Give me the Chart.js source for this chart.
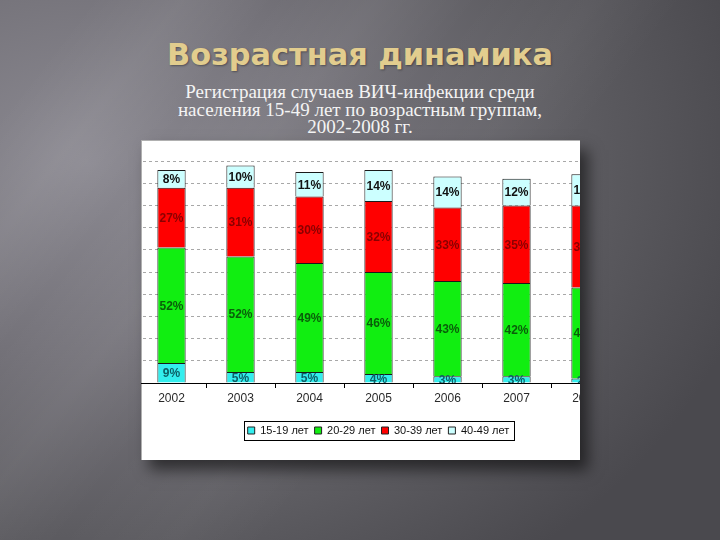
<!DOCTYPE html>
<html><head><meta charset="utf-8">
<script src="https://cdn.jsdelivr.net/npm/chart.js@4.4.0/dist/chart.umd.min.js"></script>
<style>
html,body{margin:0;padding:0;}
body{width:720px;height:540px;overflow:hidden;position:relative;
 background:
  linear-gradient(128deg, rgba(255,255,255,0) 8%, rgba(255,255,255,0.06) 16%, rgba(255,255,255,0) 24%, rgba(255,255,255,0.05) 33%, rgba(255,255,255,0) 42%, rgba(255,255,255,0.03) 52%, rgba(255,255,255,0) 60%),
  radial-gradient(ellipse 95% 95% at 12% 30%, #8c8a92 0%, #747279 38%, #5d5c61 72%, #4a494e 100%);}
#title{position:absolute;left:0;top:37px;width:720px;text-align:center;font-family:'DejaVu Sans',sans-serif;font-weight:bold;font-size:30.4px;line-height:36px;color:#e2cd8e;text-shadow:1px 1px 2px rgba(0,0,0,0.35);}
#sub{position:absolute;left:0;top:83px;width:720px;text-align:center;font-family:'Liberation Serif','DejaVu Serif',serif;font-size:19px;line-height:17.5px;color:#f4f4f4;}
#panel{position:absolute;left:141px;top:140px;width:439px;height:320px;background:#fff;overflow:hidden;
 box-shadow:inset 1px 1px 0 #b0b0b0, 8px 10px 14px rgba(0,0,0,0.55);}
#cv{position:absolute;left:-44px;top:0;}
</style></head>
<body>
<div id="title">Возрастная динамика</div>
<div id="sub">Регистрация случаев ВИЧ-инфекции среди<br>населения 15-49 лет по возрастным группам,<br>2002-2008 гг.</div>
<div id="panel"><canvas id="cv" width="560" height="320"></canvas></div>
<script>
const years = ['2002','2003','2004','2005','2006','2007','2008'];
const seriesNames = ['15-19 лет','20-29 лет','30-39 лет','40-49 лет'];
const age15_19 = [9, 5, 5, 4, 3, 3, 2];
const age20_29 = [52, 52, 49, 46, 43, 42, 41];
const age30_39 = [27, 31, 30, 32, 33, 35, 37];
const age40_49 = [8, 10, 11, 14, 14, 12, 14];

const fills = ['#33eeee', '#11ee11', '#ff0000', '#ccffff'];
const labelColors = ['#0d5f66', '#0a5e0a', '#8a0000', '#111111'];
const values = [age15_19, age20_29, age30_39, age40_49];

const segLabels = {
  id: 'segLabels',
  afterDatasetsDraw(chart) {
    const ctx = chart.ctx, a = chart.chartArea;
    ctx.save();
    ctx.beginPath();
    ctx.rect(a.left, a.top, a.right - a.left, a.bottom - a.top);
    ctx.clip();
    ctx.font = "bold 12px 'Liberation Sans Narrow', 'Liberation Sans', sans-serif";
    ctx.textAlign = 'center';
    ctx.textBaseline = 'middle';
    chart.data.datasets.forEach((ds, i) => {
      const meta = chart.getDatasetMeta(i);
      meta.data.forEach((bar, j) => {
        ctx.fillStyle = labelColors[i];
        ctx.fillText(ds.data[j] + '%', bar.x, (bar.y + bar.base) / 2 + 1);
      });
    });
    ctx.restore();
  }
};

const legendBox = {
  id: 'legendBox',
  afterDraw(chart) {
    const hb = chart.legend.legendHitBoxes;
    if (!hb || !hb.length) return;
    const l = Math.min(...hb.map(h => h.left)) - 4;
    const r = Math.max(...hb.map(h => h.left + h.width)) + 4;
    const t = Math.min(...hb.map(h => h.top)) - 4;
    const b = Math.max(...hb.map(h => h.top + h.height)) + 4;
    const ctx = chart.ctx;
    ctx.save();
    ctx.strokeStyle = '#000';
    ctx.lineWidth = 1;
    ctx.strokeRect(Math.round(l) + 0.5, Math.round(t) + 0.5, Math.round(r - l), Math.round(b - t));
    ctx.restore();
  }
};

new Chart(document.getElementById('cv'), {
  type: 'bar',
  data: {
    labels: years,
    datasets: values.map((v, i) => ({
      label: seriesNames[i],
      data: v,
      backgroundColor: fills[i],
      borderColor: '#1a1a1a',
      borderWidth: { top: 1, left: 1, right: 1, bottom: 0 },
      borderSkipped: false,
      categoryPercentage: 1,
      barPercentage: 0.41
    }))
  },
  options: {
    responsive: false,
    devicePixelRatio: 1,
    animation: false,
    layout: { padding: { left: 40, right: 37, top: 21, bottom: 14 } },
    scales: {
      x: {
        stacked: true,
        grid: { display: true, drawOnChartArea: false, drawTicks: true, tickLength: 5, color: '#000', offset: true },
        border: { display: true, color: '#000', width: 1 },
        ticks: { color: '#2a2a2a', padding: 3, font: { family: "'Liberation Sans', Arial, sans-serif", size: 12 } },
        afterFit(s) { s.height = 36; }
      },
      y: {
        stacked: true,
        min: 0, max: 100,
        ticks: { display: false, stepSize: 10 },
        grid: { drawTicks: false, color: c => (c.tick && c.tick.value === 0) ? 'rgba(0,0,0,0)' : '#a8a8a8', lineWidth: 1 },
        border: { display: false, dash: [3, 3] },
        afterFit(s) { s.width = 0; }
      }
    },
    plugins: {
      legend: {
        position: 'bottom',
        labels: {
          boxWidth: 7, boxHeight: 7, padding: 6, color: '#111',
          font: { family: "'Liberation Sans', Arial, sans-serif", size: 11 },
          generateLabels(chart) {
            return chart.data.datasets.map((ds, i) => ({
              text: ds.label, fillStyle: ds.backgroundColor, strokeStyle: '#222', lineWidth: 1,
              hidden: false, datasetIndex: i, fontColor: '#111'
            }));
          }
        }
      },
      tooltip: { enabled: false }
    }
  },
  plugins: [segLabels, legendBox]
});
</script>
</body></html>
